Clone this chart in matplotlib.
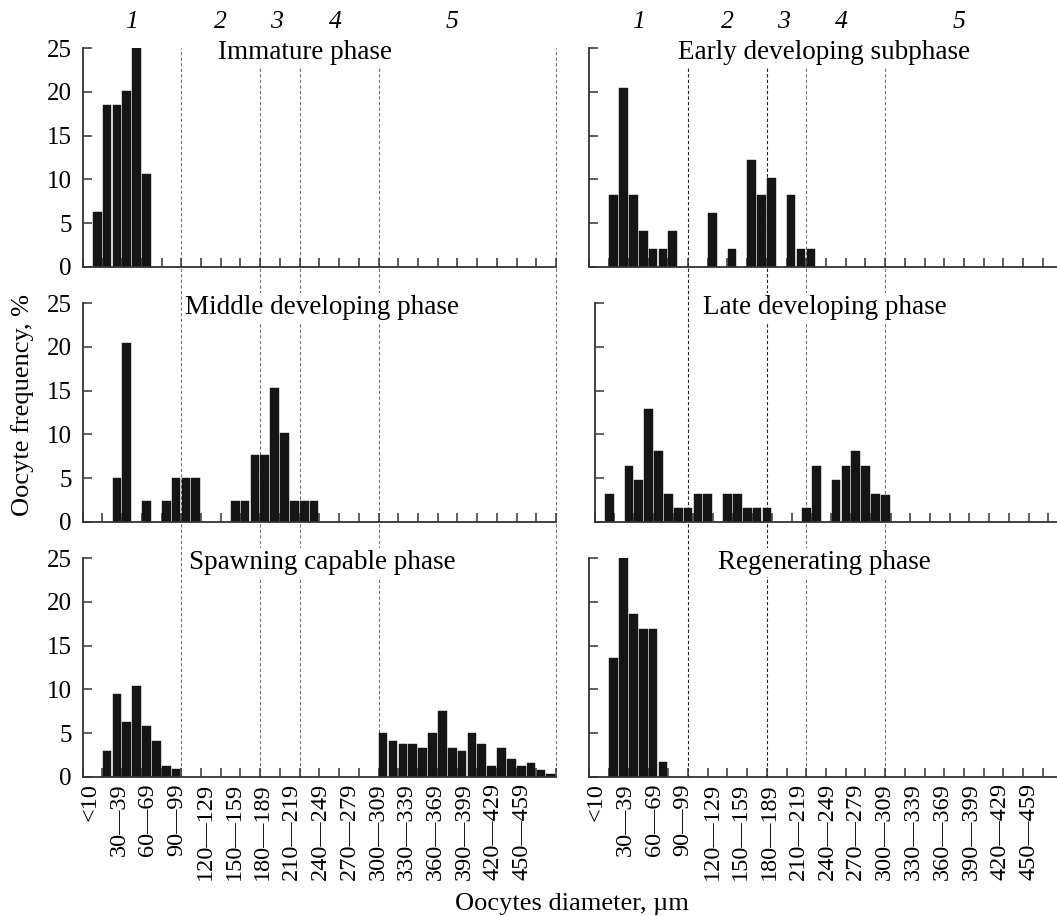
import numpy as np
import matplotlib.pyplot as plt
from matplotlib import transforms
from matplotlib.lines import Line2D

plt.rcParams['font.family'] = ['Liberation Serif', 'DejaVu Serif']

# 10-um size classes: class 0 is "<10", class 1 is 10-19, ... class 47 is 470-479
n_classes = 48
size_labels = ['<10'] + ['%d\u2014%d' % (a, a + 9) for a in range(30, 460, 30)]

# phase boundaries (in size classes) and the stage numbers written above
phase_limits = [10, 18, 22, 30, 48]
stage_names = ['1', '2', '3', '4', '5']
stage_pos = [5, 14, 19.7, 25.6, 37.5]

# oocyte frequency, % (class index, value)
immature_cls = [1, 2, 3, 4, 5, 6]
immature_pct = [6.3, 18.5, 18.5, 20.1, 25.0, 10.6]

early_cls = [2, 3, 4, 5, 6, 7, 8, 12, 14, 16, 17, 18, 20, 21, 22]
early_pct = [8.2, 20.4, 8.2, 4.1, 2.0, 2.0, 4.1, 6.1, 2.0, 12.2, 8.2, 10.2, 8.2, 2.0, 2.0]

middle_cls = [3, 4, 6, 8, 9, 10, 11, 15, 16, 17, 18, 19, 20, 21, 22, 23]
middle_pct = [5.0, 20.5, 2.4, 2.4, 5.0, 5.0, 5.0, 2.4, 2.4, 7.6, 7.6, 15.3, 10.2, 2.4, 2.4, 2.4]

late_cls = [1, 3, 4, 5, 6, 7, 8, 9, 10, 11, 13, 14, 15, 16, 17,
            21, 22, 24, 25, 26, 27, 28, 29]
late_pct = [3.2, 6.4, 4.8, 12.9, 8.1, 3.2, 1.6, 1.6, 3.2, 3.2, 3.2, 3.2, 1.6, 1.6, 1.6,
            1.6, 6.4, 4.8, 6.4, 8.1, 6.4, 3.2, 3.1]

spawning_cls = [2, 3, 4, 5, 6, 7, 8, 9,
                30, 31, 32, 33, 34, 35, 36, 37, 38, 39, 40, 41, 42, 43, 44, 45, 46, 47]
spawning_pct = [2.9, 9.5, 6.3, 10.4, 5.8, 4.1, 1.2, 0.9,
                5.0, 4.1, 3.7, 3.7, 3.3, 5.0, 7.5, 3.3, 2.9, 5.0, 3.7, 1.2, 3.3, 2.0,
                1.2, 1.6, 0.8, 0.35]

regen_cls = [2, 3, 4, 5, 6, 7]
regen_pct = [13.6, 25.0, 18.6, 16.9, 16.9, 1.7]

W, H = 1057, 916
fig = plt.figure(figsize=(W / 100, H / 100), dpi=100)

col_left = [82.7, 589.3]
row_bottom = [266.7, 521.7, 776.7]
ax_w = 473.3
ax_h = 218.4

panels = [
    ('Immature phase', immature_cls, immature_pct, 0, 0, 22.5, 0),
    ('Early developing subphase', early_cls, early_pct, 0, 1, 23.85, 0),
    ('Middle developing phase', middle_cls, middle_pct, 1, 0, 24.3, 0),
    ('Late developing phase', late_cls, late_pct, 1, 1, 23.3, 5.4),
    ('Spawning capable phase', spawning_cls, spawning_pct, 2, 0, 24.3, 0),
    ('Regenerating phase', regen_cls, regen_pct, 2, 1, 23.85, 0),
]

axes = {}
for title, cls, pct, r, c, tx, shift in panels:
    x0 = (col_left[c] + shift) / W
    y0 = 1 - row_bottom[r] / H
    ax = fig.add_axes([x0, y0, ax_w / W, ax_h / H])
    ax.set_facecolor('none')
    axes[(r, c)] = ax

    ax.bar(np.array(cls) + 0.03, pct, width=0.88, align='edge',
           color='#151515', edgecolor='#151515', linewidth=0.3, zorder=2)

    ax.set_xlim(0, n_classes)
    ax.set_ylim(0, 25)
    for s in ['top', 'right']:
        ax.spines[s].set_visible(False)
    for s in ['left', 'bottom']:
        ax.spines[s].set_color('#333333')
        ax.spines[s].set_linewidth(1.3)

    ax.set_yticks([0, 5, 10, 15, 20, 25])
    ax.tick_params(axis='y', direction='in', length=6.5, width=1.1,
                   color='#333333', labelsize=18, pad=8, labelleft=(c == 0))

    ax.set_xticks(np.arange(0, n_classes + 1, 2), minor=True)
    ax.tick_params(axis='x', which='minor', direction='in', length=6.5,
                   width=1.1, color='#333333')
    ax.set_xticks(0.75 + 2.92 * np.arange(len(size_labels)))
    if r == 2:
        ax.set_xticklabels(size_labels, rotation=90, fontsize=17.5, va='top')
    else:
        ax.set_xticklabels([])
    ax.tick_params(axis='x', which='major', length=0, pad=4.5)

    ax.text(tx, 24.5, title, ha='center', va='center', fontsize=19.5, zorder=5,
            bbox=dict(boxstyle='square,pad=0.08', facecolor='white', edgecolor='none'))

# stage numbers above the top panels and dashed phase boundaries through each column
y_top = 1 - 48.3 / H
y_bot = 1 - row_bottom[2] / H
for c in [0, 1]:
    ax_top = axes[(0, c)]
    for name, xpos in zip(stage_names, stage_pos):
        ax_top.text(xpos, 28.0, name, ha='center', va='center', fontsize=18.5,
                    style='italic', clip_on=False)
    trans = transforms.blended_transform_factory(ax_top.transData, fig.transFigure)
    for i, lim in enumerate(phase_limits):
        col = '#222222' if (c == 1 and i < 2) else '#777777'
        fig.add_artist(Line2D([lim, lim], [y_bot, y_top], transform=trans,
                              color=col, linewidth=0.8, linestyle=(0, (3, 2)),
                              zorder=-1))

fig.text(23 / W, 1 - 405.5 / H, 'Oocyte frequency, %', rotation=90,
         ha='center', va='center', fontsize=19)
fig.text(571.7 / W, 1 - 910 / H, 'Oocytes diameter, \u00b5m',
         ha='center', va='baseline', fontsize=19)

fig.savefig('out.png', dpi=100)
